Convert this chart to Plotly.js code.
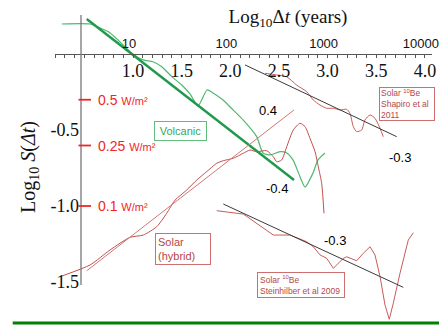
<!DOCTYPE html>
<html><head><meta charset="utf-8">
<script src="https://cdn.plot.ly/plotly-3.0.1.min.js"></script>
<style>html,body{margin:0;padding:0;background:#fff}</style>
</head><body><div id="chart" style="width:439px;height:331px"></div>
<script>
// ---- data (x = log10 Δt, y = log10 S(Δt)) ----
const volcanicX = [0.267,0.558,0.643,0.743,0.846,0.987,1.103,1.206,1.295,1.398,1.501,1.586,1.668,1.761,1.822,1.925,2.028,2.131,2.271,2.336,2.408,2.511,2.580,2.644,2.716,2.768,2.850,2.901,2.973];
const volcanicY = [0.197,0.197,0.176,0.147,0.092,0.005,-0.039,-0.051,-0.084,-0.149,-0.204,-0.263,-0.342,-0.237,-0.257,-0.303,-0.368,-0.434,-0.544,-0.651,-0.664,-0.643,-0.651,-0.697,-0.807,-0.875,-0.783,-0.697,-0.651];
const volcanicFitX = [0.524, 2.655];
const volcanicFitY = [0.230, -0.829];

const hybridX = [0.267,0.558,0.764,0.969,1.106,1.244,1.346,1.432,1.552,1.655,1.757,1.860,1.928,2.031,2.134,2.202,2.271,2.374,2.442,2.477,2.528,2.580,2.647,2.716,2.768,2.819,2.871,2.904,2.939,2.963];
const hybridY = [-1.461,-1.388,-1.289,-1.206,-1.191,-1.136,-1.048,-0.961,-0.895,-0.829,-0.774,-0.719,-0.702,-0.686,-0.653,-0.632,-0.643,-0.636,-0.676,-0.709,-0.697,-0.610,-0.500,-0.456,-0.478,-0.555,-0.643,-0.741,-0.851,-1.048];
const hybridFitX = [0.524, 2.655];
const hybridFitY = [-1.426, -0.368];

const steinX = [1.860,2.134,2.442,2.614,2.785,2.853,2.922,2.991,3.059,3.161,3.196,3.299,3.367,3.436,3.487,3.539,3.590,3.634,3.675,3.744,3.829,3.881];
const steinY = [-1.031,-1.053,-1.191,-1.191,-1.235,-1.268,-1.322,-1.344,-1.410,-1.344,-1.334,-1.360,-1.311,-1.268,-1.322,-1.465,-1.651,-1.745,-1.640,-1.443,-1.224,-1.176];
const steinFitX = [1.928, 3.778];
const steinFitY = [-0.987, -1.535];

const shapiroX = [2.357,2.477,2.580,2.682,2.785,2.853,2.922,2.991,3.059,3.127,3.196,3.230,3.264,3.299,3.350,3.384,3.436,3.487,3.539,3.572];
const shapiroY = [-0.127,-0.138,-0.150,-0.205,-0.248,-0.303,-0.336,-0.357,-0.357,-0.368,-0.364,-0.390,-0.478,-0.511,-0.500,-0.434,-0.401,-0.423,-0.489,-0.544];
const shapiroFitX = [2.151, 3.710];
const shapiroFitY = [-0.072, -0.544];

const xTickVals = [1, 1.5, 2, 2.5, 3, 3.5, 4];
const xTickText = ['1.0','1.5','2.0','2.5','3.0','3.5','4.0'];
const topTickVals = [1, 2, 3, 4];
const topTickText = ['10','100','1000','10000'];
const yTickVals = [-0.5, -1.0, -1.5];
const yTickText = ['-0.5','-1.0','-1.5'];
const wm2Values = [0.5, 0.25, 0.1];
const wm2Labels = ['0.5','0.25','0.1'];
const slopeLabels = ['0.4','-0.4','-0.3','-0.3'];

// ---- geometry helpers (pixel -> data) ----
const W = 439, H = 331;
const M = {l:55, r:7, t:12, b:9};
const PW = W - M.l - M.r, PH = H - M.t - M.b;
const xRange = [0.198, 4.073];
const yRange = [-1.763, 0.276];
const X = p => xRange[0] + (p - M.l) / PW * (xRange[1] - xRange[0]);
const Y = p => yRange[1] - (p - M.t) / PH * (yRange[1] - yRange[0]);
const xAxisPos = (0 - yRange[0]) / (yRange[1] - yRange[0]);
const yAxisPx = 81;
const yAxisPos = (yAxisPx - M.l) / PW;

const RED = '#c0504d';
const traces = [
  {x: volcanicX, y: volcanicY, mode:'lines', line:{color:'#4fb96e', width:1.2, shape:'spline', smoothing:0.6}},
  {x: volcanicFitX, y: volcanicFitY, mode:'lines', line:{color:'#1f9a4c', width:2.4}},
  {x: hybridX, y: hybridY, mode:'lines', line:{color:RED, width:1, shape:'spline', smoothing:0.6}},
  {x: hybridFitX, y: hybridFitY, mode:'lines', line:{color:'#cf7777', width:1}},
  {x: steinX, y: steinY, mode:'lines', line:{color:'#cc5a5a', width:1}},
  {x: steinFitX, y: steinFitY, mode:'lines', line:{color:'#3a3a3a', width:1}},
  {x: shapiroX, y: shapiroY, mode:'lines', xaxis:'x2', line:{color:'#cc5a5a', width:1, shape:'spline', smoothing:0.6}},
  {x: shapiroFitX, y: shapiroFitY, mode:'lines', xaxis:'x2', line:{color:'#3a3a3a', width:1}}
];

const sans = 'Liberation Sans, Arial, sans-serif';
const serif = 'Liberation Serif, Times New Roman, serif';
const annotations = [
  {x:X(24), y:Y(25), text:'(a)', showarrow:false, font:{family:sans, size:19, color:'#000'}},
  {x:X(268), y:Y(110), text:slopeLabels[0], showarrow:false, font:{family:sans, size:13, color:'#000'}},
  {x:X(277), y:Y(188), text:slopeLabels[1], showarrow:false, font:{family:sans, size:13, color:'#000'}},
  {x:X(400), y:Y(157), text:slopeLabels[2], showarrow:false, font:{family:sans, size:13, color:'#000'}},
  {x:X(335), y:Y(240), text:slopeLabels[3], showarrow:false, font:{family:sans, size:13, color:'#000'}},
  {x:X(180.5), y:Y(131), text:'Volcanic', showarrow:false, width:47, height:14, borderpad:2, borderwidth:1, bordercolor:'#62bd7c', font:{family:sans, size:11, color:'#35a856'}},
  {x:X(182.5), y:Y(249), text:'Solar<br>(hybrid)', align:'left', showarrow:false, width:50, height:26, borderpad:2, borderwidth:1, bordercolor:'#cc6f6f', font:{family:sans, size:11, color:'#b54848'}},
  {x:X(300.5), y:Y(285), text:'Solar <sup>10</sup>Be<br>Steinhilber et al 2009', align:'left', showarrow:false, width:82, height:20, borderpad:2, borderwidth:1, bordercolor:'#cc6f6f', font:{family:sans, size:8.5, color:'#b54848'}},
  {x:X(406.7), y:Y(103.7), text:'Solar <sup>10</sup>Be<br>Shapiro et al<br>2011', align:'left', showarrow:false, width:52, height:30, borderpad:1, borderwidth:1, bordercolor:'#cc6f6f', font:{family:sans, size:8.5, color:'#b54848'}}
];
wm2Values.forEach((v, i) => {
  annotations.push({x:X(96), y:Math.log10(v), xanchor:'left', yanchor:'middle', showarrow:false,
    text: wm2Labels[i] + ' <span style="font-size:11px">W/m²</span>', font:{family:sans, size:14, color:'#f02626'}});
});

const shapes = [
  // y axis line
  {type:'line', xref:'x', yref:'y', x0:X(yAxisPx), x1:X(yAxisPx), y0:Y(285), y1:Y(15), line:{color:'#777', width:1.3}},
  // bottom green rule
  {type:'line', xref:'paper', yref:'paper', x0:(12.7-M.l)/PW, x1:(439-M.l)/PW, y0:(H-M.b-323)/PH, y1:(H-M.b-323)/PH, line:{color:'#008000', width:3}}
];
wm2Values.forEach(v => {
  shapes.push({type:'line', xref:'x', yref:'y', x0:X(78.5), x1:X(91), y0:Math.log10(v), y1:Math.log10(v), line:{color:'#f02626', width:1.8}});
});

const layout = {
  width: W, height: H, margin: M, showlegend:false,
  paper_bgcolor:'#fff', plot_bgcolor:'rgba(0,0,0,0)',
  title: {text:'Log<sub>10</sub>Δ<i>t</i> (years)', x:288/W, xanchor:'center', xref:'container', y:1-16/H, yanchor:'middle', yref:'container', font:{family:serif, size:19, color:'#111'}},
  xaxis: {range:xRange, anchor:'free', position:xAxisPos, showgrid:false, zeroline:false, showline:true, linecolor:'#555', linewidth:1,
          tickmode:'array', tickvals:xTickVals, ticktext:xTickText, ticks:'outside', ticklen:3, tickcolor:'#555', ticklabelstandoff:-3,
          minor:{dtick:0.1, tick0:0, ticks:'outside', ticklen:3, tickcolor:'#555'},
          tickfont:{family:serif, size:18, color:'#111'}, automargin:false},
  xaxis2: {range:xRange, overlaying:'x', anchor:'free', position:xAxisPos, side:'top', showgrid:false, zeroline:false, showline:false,
          tickmode:'array', tickvals:topTickVals, ticktext:topTickText, ticks:'', ticklabelshift:-4, ticklabelstandoff:3,
          tickfont:{family:sans, size:13, color:'#111'}, automargin:false},
  yaxis: {range:yRange, anchor:'free', position:yAxisPos, showgrid:false, zeroline:false, showline:false,
          tickmode:'array', tickvals:yTickVals, ticktext:yTickText, ticks:'', ticklabelstandoff:2,
          tickfont:{family:serif, size:18, color:'#111'}, automargin:false,
          title:{text:'Log<sub>10</sub> <i>S</i>(<i>Δt</i>)', standoff:8, font:{family:serif, size:20, color:'#111'}}},
  annotations: annotations,
  shapes: shapes
};
Plotly.newPlot('chart', traces, layout, {displayModeBar:false, staticPlot:true});
</script>
</body></html>
